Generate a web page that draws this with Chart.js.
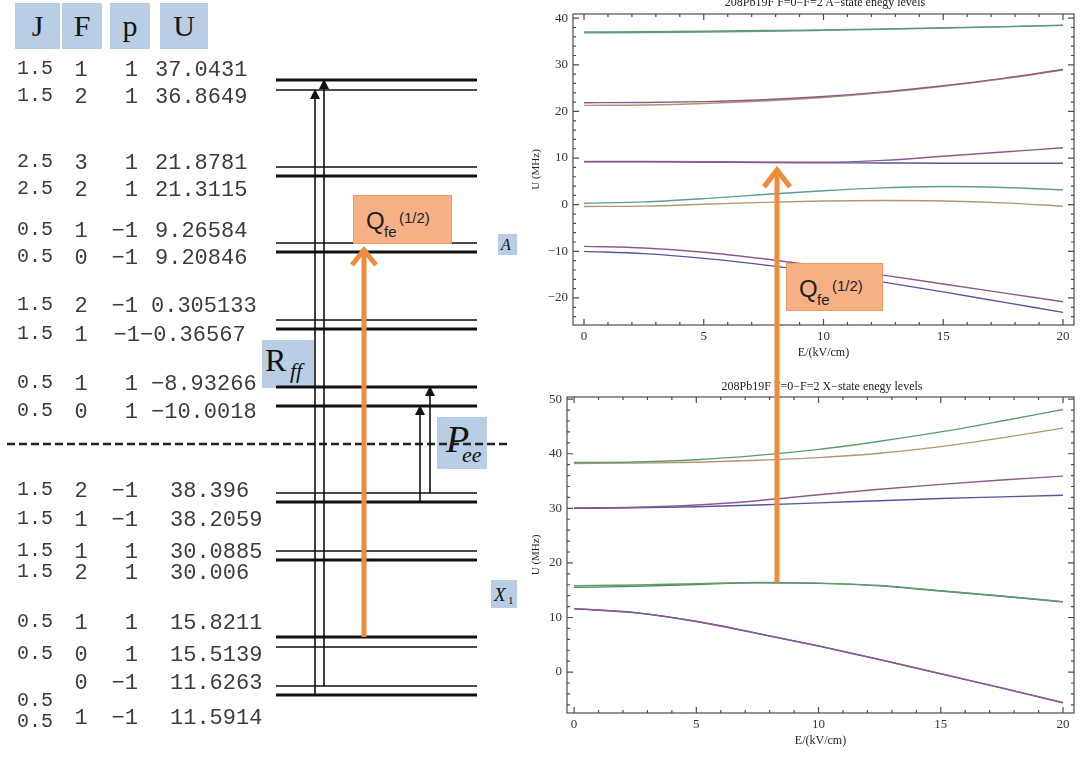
<!DOCTYPE html>
<html>
<head>
<meta charset="utf-8">
<title>208Pb19F energy levels</title>
<script src="https://cdn.jsdelivr.net/npm/chart.js@4.4.1/dist/chart.umd.min.js"></script>
<style>
  html, body { margin: 0; padding: 0; background: #fff; }
  body { position: relative; width: 1081px; height: 757px; overflow: hidden; }
  canvas { position: absolute; display: block; }
  .hdr { position: absolute; top: 3px; height: 46px; background: #b9cde5;
         font: 30px "Liberation Serif", serif; line-height: 46px; color: #151515; text-align: center; }
  .cell { position: absolute; font-family: "Liberation Mono", monospace; font-size: 22px;
          line-height: 22px; height: 22px; color: #3c3c3c; white-space: pre; }
  .tag { position: absolute; background: #b9cde5; font-family: "Liberation Serif", serif; color: #111; }
  .tag span { position: absolute; line-height: 1; }
  .q { position: absolute; background: #f5b185; border: 1px solid #f0995c; box-sizing: border-box;
       font-family: "Liberation Sans", sans-serif; color: #1e1e1e; }
  .q span { position: absolute; line-height: 1; }
  .ttl { position: absolute; font: 12px "Liberation Serif", serif; color: #222; white-space: nowrap;
         transform: translate(-50%, -50%); }
</style>
</head>
<body>

<div class="hdr" style="left:15px;width:45px">J</div>
<div class="hdr" style="left:62px;width:40px">F</div>
<div class="hdr" style="left:110px;width:40px">p</div>
<div class="hdr" style="left:160px;width:48px">U</div>

<div class="tag" style="left:262px;top:340px;width:52px;height:48px">
  <span style="left:3px;top:4px;font-size:32px">R</span>
  <span style="left:28px;top:20px;font-size:22px;font-style:italic">ff</span>
</div>
<div class="tag" style="left:437px;top:417px;width:50px;height:52px">
  <span style="left:9px;top:3px;font-size:38px;font-style:italic">P</span>
  <span style="left:25px;top:27px;font-size:22px;font-style:italic">ee</span>
</div>
<div class="tag" style="left:498px;top:234px;width:19px;height:21px">
  <span style="left:3px;top:3px;font-size:16px;font-style:italic">A</span>
</div>
<div class="tag" style="left:491px;top:580px;width:26px;height:28px">
  <span style="left:3px;top:5px;font-size:19px;font-style:italic">X</span>
  <span style="left:17px;top:15px;font-size:11px">1</span>
</div>

<canvas id="diagram" width="520" height="757" style="left:0;top:0"></canvas>
<canvas id="stateA" width="561" height="370" style="left:520px;top:0"></canvas>
<canvas id="stateX" width="561" height="382" style="left:520px;top:375px"></canvas>

<div id="table"></div>

<div class="ttl" style="left:825px;top:2px">208Pb19F F=0−F=2 A−state enegy levels</div>
<div class="ttl" style="left:822px;top:386px">208Pb19F F=0−F=2 X−state enegy levels</div>

<canvas id="overlay" width="1081" height="757" style="left:0;top:0;pointer-events:none"></canvas>

<div class="q" style="left:353px;top:195px;width:99px;height:49px">
  <span style="left:12px;top:13px;font-size:24px">Q</span>
  <span style="left:30px;top:28px;font-size:15px">fe</span>
  <span style="left:45px;top:14px;font-size:15px">(1/2)</span>
</div>
<div class="q" style="left:786px;top:263px;width:97px;height:48px">
  <span style="left:12px;top:13px;font-size:24px">Q</span>
  <span style="left:30px;top:28px;font-size:15px">fe</span>
  <span style="left:45px;top:14px;font-size:15px">(1/2)</span>
</div>

<script>
// level table (A state rows first, then X state rows)
const J = [1.5, 1.5, 2.5, 2.5, 0.5, 0.5, 1.5, 1.5, 0.5, 0.5, 1.5, 1.5, 1.5, 1.5, 0.5, 0.5, 0.5, 0.5];
const F = [1, 2, 3, 2, 1, 0, 2, 1, 1, 0, 2, 1, 1, 2, 1, 0, 0, 1];
const P = [1, 1, 1, 1, -1, -1, -1, -1, 1, 1, -1, -1, 1, 1, 1, 1, -1, -1];
const U = ['37.0431', '36.8649', '21.8781', '21.3115', '9.26584', '9.20846', '0.305133', '-0.36567',
           '-8.93266', '-10.0018', '38.396', '38.2059', '30.0885', '30.006', '15.8211', '15.5139',
           '11.6263', '11.5914'];

// schematic height of each level in the diagram (diagram units, top = 0)
const LEVEL_Y = [80, 90, 167, 176, 243, 252, 320, 329, 387, 406, 493, 502, 551, 560, 637, 647, 686, 695];
const DIVIDER_Y = 444;

// transitions drawn as arrows: lower level index -> upper level index
const R_FF = [[17, 1], [16, 0]];
const P_EE = [[11, 9], [10, 8]];
const Q_FE = [14, 5];

// Stark curves, field in kV/cm, energies in MHz
const E_FIELD = [0, 2.5, 5, 7.5, 10, 12.5, 15, 17.5, 20];

const A_J15_F1 = [37.04, 37.1, 37.2, 37.35, 37.5, 37.7, 37.95, 38.2, 38.5];
const A_J15_F2 = [36.86, 36.92, 37.03, 37.18, 37.38, 37.6, 37.86, 38.14, 38.45];
const A_J25_F3 = [21.88, 21.92, 22.1, 22.5, 23.2, 24.2, 25.5, 27.1, 29.0];
const A_J25_F2 = [21.31, 21.38, 21.7, 22.25, 23.0, 24.05, 25.4, 27.0, 28.9];
const A_J05_F1m = [9.27, 9.25, 9.2, 9.12, 9.1, 9.5, 10.4, 11.3, 12.2];
const A_J05_F0m = [9.21, 9.2, 9.15, 9.05, 9.0, 8.95, 8.9, 8.9, 8.9];
const A_J15_F2m = [0.31, 0.6, 1.3, 2.2, 3.0, 3.6, 3.9, 3.7, 3.2];
const A_J15_F1m = [-0.37, -0.3, 0.1, 0.5, 0.8, 0.9, 0.8, 0.4, -0.3];
const A_J05_F1 = [-8.93, -9.3, -10.2, -11.6, -13.3, -15.1, -17.0, -18.9, -20.8];
const A_J05_F0 = [-10.0, -10.5, -11.5, -12.9, -14.6, -16.6, -18.7, -20.9, -23.1];

const X_J15_F2m = [38.4, 38.5, 38.9, 39.7, 40.8, 42.3, 44.0, 46.0, 48.1];
const X_J15_F1m = [38.21, 38.28, 38.45, 38.8, 39.3, 40.1, 41.3, 42.9, 44.7];
const X_J15_F1 = [30.09, 30.2, 30.6, 31.4, 32.5, 33.5, 34.4, 35.2, 35.9];
const X_J15_F2 = [30.01, 30.08, 30.3, 30.6, 31.0, 31.4, 31.8, 32.1, 32.4];
const X_J05_F1 = [15.82, 15.95, 16.2, 16.4, 16.3, 15.85, 14.9, 13.95, 12.9];
const X_J05_F0 = [15.51, 15.7, 16.05, 16.35, 16.25, 15.8, 14.85, 13.9, 12.85];
const X_J05_F0m = [11.63, 10.9, 9.3, 7.1, 4.8, 2.3, -0.3, -2.9, -5.6];
const X_J05_F1m = [11.59, 10.87, 9.27, 7.07, 4.77, 2.27, -0.33, -2.93, -5.63];

const ARROW_E = 8.3;      // field where the big Q arrow is drawn
const ARROW_FROM = 16.4;  // X state, MHz
const ARROW_TO = 7.9;     // A state, MHz

// ---- table text
const ROW_Y = [70, 97, 163, 190, 231, 258, 306, 335, 384, 412, 491, 520, 552, 573, 623, 655, 683, 718];
const U_LEFT = [155, 155, 155, 155, 155, 155, 151, 140, 151, 151, 170, 170, 170, 170, 170, 170, 170, 170];
const table = document.getElementById('table');

function addCell(text, left, y, opts = {}) {
    const d = document.createElement('div');
    d.className = 'cell';
    d.textContent = text;
    d.style.left = left + 'px';
    d.style.top = (y - 10) + 'px';
    if (opts.size) d.style.fontSize = opts.size + 'px';
    if (opts.width) { d.style.width = opts.width + 'px'; d.style.textAlign = opts.align; }
    table.appendChild(d);
}

J.forEach((j, i) => {
    const jy = i === 16 ? 700 : i === 17 ? 721 : ROW_Y[i] - 2;
    addCell(j.toFixed(1), 17, jy, { size: 20 });
    addCell(String(F[i]), 70, ROW_Y[i], { width: 22, align: 'center' });
    addCell(P[i] < 0 ? '−1' : '1', i === 7 ? 100 : 98, ROW_Y[i], { width: 40, align: 'right' });
    addCell(U[i].replace('-', '−'), U_LEFT[i], ROW_Y[i]);
});

// ---- level diagram
const LEVEL_X0 = 276, LEVEL_X1 = 477;
const heavy = i => [0, 3, 5, 7, 8, 9, 11, 13, 14, 17].includes(i);

const levelSets = LEVEL_Y.map((y, i) => ({
    data: [{ x: LEVEL_X0, y }, { x: LEVEL_X1, y }],
    showLine: true,
    borderColor: heavy(i) ? '#111' : '#4a4a4a',
    borderWidth: heavy(i) ? 3 : 2,
    pointRadius: 0,
}));
levelSets.push({
    data: [{ x: 7, y: DIVIDER_Y }, { x: 507, y: DIVIDER_Y }],
    showLine: true,
    borderColor: '#222',
    borderWidth: 2.5,
    borderDash: [8, 4],
    pointRadius: 0,
});

const transitionArrows = {
    id: 'transitionArrows',
    afterDatasetsDraw(chart) {
        const { ctx, scales: { x, y } } = chart;
        ctx.save();
        const black = (pair, xv) => {
            const px = x.getPixelForValue(xv);
            const y0 = y.getPixelForValue(LEVEL_Y[pair[0]]);
            const y1 = y.getPixelForValue(LEVEL_Y[pair[1]]) - 1;
            ctx.strokeStyle = '#111';
            ctx.lineWidth = 1.6;
            ctx.beginPath();
            ctx.moveTo(px, y0);
            ctx.lineTo(px, y1 + 8);
            ctx.stroke();
            ctx.fillStyle = '#111';
            ctx.beginPath();
            ctx.moveTo(px, y1);
            ctx.lineTo(px - 5, y1 + 10);
            ctx.lineTo(px + 5, y1 + 10);
            ctx.closePath();
            ctx.fill();
        };
        black(R_FF[0], 315);
        black(R_FF[1], 324);
        black(P_EE[0], 420);
        black(P_EE[1], 430);

        const qx = x.getPixelForValue(364);
        const q0 = y.getPixelForValue(LEVEL_Y[Q_FE[0]]);
        const q1 = y.getPixelForValue(LEVEL_Y[Q_FE[1]]) - 4;
        ctx.strokeStyle = '#f08a3c';
        ctx.lineWidth = 5;
        ctx.lineJoin = 'miter';
        ctx.beginPath();
        ctx.moveTo(qx, q0);
        ctx.lineTo(qx, q1 + 2);
        ctx.stroke();
        ctx.beginPath();
        ctx.moveTo(qx - 12, q1 + 17);
        ctx.lineTo(qx, q1 + 2);
        ctx.lineTo(qx + 12, q1 + 17);
        ctx.stroke();
        ctx.restore();
    }
};

new Chart(document.getElementById('diagram'), {
    type: 'scatter',
    data: { datasets: levelSets },
    options: {
        responsive: false,
        animation: false,
        layout: { padding: 0 },
        plugins: { legend: { display: false }, tooltip: { enabled: false } },
        scales: {
            x: { type: 'linear', display: false, min: 0, max: 520 },
            y: { type: 'linear', display: false, min: 0, max: 757, reverse: true },
        },
    },
    plugins: [transitionArrows],
});

// ---- Stark plots
const BLUE = '#56569c', PURPLE = '#8c5b8c', OCHRE = '#b39670', GREEN = '#5f9b70', TEAL = '#5f9b98';

const frameTicks = {
    id: 'frameTicks',
    afterDraw(chart) {
        const { ctx, chartArea: a, scales: { x, y } } = chart;
        ctx.save();
        ctx.strokeStyle = '#4d4d4d';
        ctx.lineWidth = 1.2;
        ctx.strokeRect(a.left, a.top, a.right - a.left, a.bottom - a.top);
        ctx.beginPath();
        for (let v = Math.ceil(x.min); v <= x.max; v++) {
            const px = x.getPixelForValue(v);
            const len = v % 5 === 0 ? 6 : 3;
            ctx.moveTo(px, a.bottom); ctx.lineTo(px, a.bottom - len);
            ctx.moveTo(px, a.top); ctx.lineTo(px, a.top + len);
        }
        for (let v = Math.ceil(y.min / 2) * 2; v <= y.max; v += 2) {
            const py = y.getPixelForValue(v);
            const len = v % 10 === 0 ? 6 : 3;
            ctx.moveTo(a.left, py); ctx.lineTo(a.left + len, py);
            ctx.moveTo(a.right, py); ctx.lineTo(a.right - len, py);
        }
        ctx.stroke();
        ctx.restore();
    }
};

const tickFont = { family: 'Liberation Serif', size: 13 };
const titleFont = { family: 'Liberation Serif', size: 11 };

function starkChart(id, series, xr, yr, axisW, axisH, padTop, xTitlePad) {
    return new Chart(document.getElementById(id), {
        type: 'line',
        data: {
            datasets: series.map(([vals, color]) => ({
                data: E_FIELD.map((e, k) => ({ x: e, y: vals[k] })),
                borderColor: color,
                borderWidth: 1.4,
                pointRadius: 0,
                cubicInterpolationMode: 'monotone',
                fill: false,
            })),
        },
        options: {
            responsive: false,
            animation: false,
            layout: { padding: { top: padTop, right: 7, left: 0, bottom: 0 } },
            plugins: { legend: { display: false }, tooltip: { enabled: false } },
            scales: {
                x: {
                    type: 'linear', min: xr[0], max: xr[1],
                    grid: { display: false, drawTicks: false }, border: { display: false },
                    ticks: { stepSize: 5, includeBounds: false, padding: 4, maxRotation: 0,
                             color: '#333', font: tickFont },
                    title: { display: true, text: 'E/(kV/cm)', color: '#222',
                             font: { family: 'Liberation Serif', size: 12 }, padding: { top: 0, bottom: xTitlePad } },
                    afterFit: s => { s.height = axisH; },
                },
                y: {
                    type: 'linear', min: yr[0], max: yr[1],
                    grid: { display: false, drawTicks: false }, border: { display: false },
                    ticks: { stepSize: 10, includeBounds: false, padding: 5, color: '#333', font: tickFont,
                             callback: v => String(v).replace('-', '−') },
                    title: { display: true, text: 'U (MHz)', color: '#222', font: titleFont,
                             padding: { top: 10, bottom: 0 } },
                    afterFit: s => { s.width = axisW; },
                },
            },
        },
        plugins: [frameTicks],
    });
}

const chartA = starkChart('stateA', [
    [A_J15_F1, GREEN], [A_J15_F2, TEAL], [A_J25_F3, PURPLE], [A_J25_F2, OCHRE],
    [A_J05_F1m, PURPLE], [A_J05_F0m, BLUE], [A_J15_F2m, TEAL], [A_J15_F1m, OCHRE],
    [A_J05_F1, PURPLE], [A_J05_F0, BLUE],
], [-0.46, 20.46], [-25.8, 40.9], 53, 45, 14, 10);

const chartX = starkChart('stateX', [
    [X_J15_F2m, GREEN], [X_J15_F1m, OCHRE], [X_J15_F1, PURPLE], [X_J15_F2, BLUE],
    [X_J05_F1, GREEN], [X_J05_F0, '#4f8a5c'], [X_J05_F0m, PURPLE], [X_J05_F1m, BLUE],
], [-0.29, 20.45], [-7.5, 50.4], 47, 44, 22, 9);

// ---- big Q arrow running from the X-state plot up into the A-state plot
const ov = document.getElementById('overlay').getContext('2d');
const ax = chartX.scales.x.getPixelForValue(ARROW_E) + 520;
const ay0 = chartX.scales.y.getPixelForValue(ARROW_FROM) + 375;
const ay1 = chartA.scales.y.getPixelForValue(ARROW_TO);
ov.strokeStyle = '#f08a3c';
ov.lineWidth = 5;
ov.beginPath();
ov.moveTo(ax, ay0);
ov.lineTo(ax, ay1 + 2);
ov.stroke();
ov.beginPath();
ov.moveTo(ax - 13, ay1 + 19);
ov.lineTo(ax, ay1 + 2);
ov.lineTo(ax + 13, ay1 + 19);
ov.stroke();
</script>
</body>
</html>
